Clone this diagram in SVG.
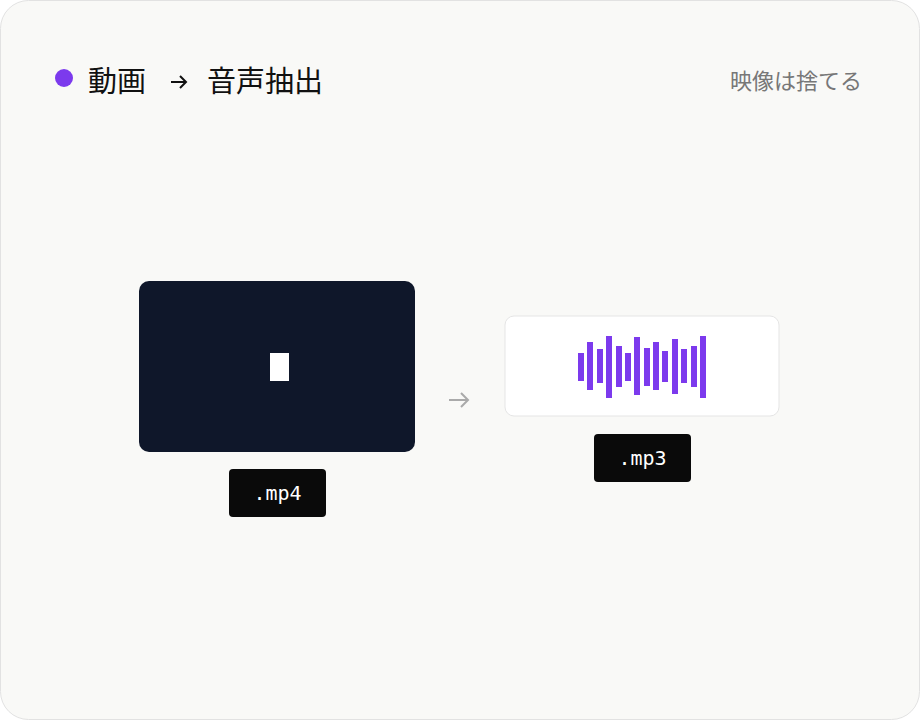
<svg xmlns="http://www.w3.org/2000/svg" width="920" height="720" viewBox="0 0 920 720">
<style>
.tag{fill:#0a0a0a}
.tagt{font-family:"DejaVu Sans Mono","Liberation Mono",monospace;font-size:20px;fill:#fff;text-anchor:middle}
.bar{fill:#7c3aed}
</style>
<rect x="0.5" y="0.5" width="919" height="719" rx="28" fill="#f9f9f7" stroke="#e2e2e2"/>
<g id="title">
<circle cx="64" cy="78" r="9" fill="#7c3aed"/>
<text x="88" y="92" font-family="'Noto Sans CJK JP',sans-serif" font-size="29" fill="#111">動画</text>
<path d="M171 82h15M180 76l6 6-6 6" fill="none" stroke="#111" stroke-width="2"/>
<text x="207" y="92" font-family="'Noto Sans CJK JP',sans-serif" font-size="29" fill="#111">音声抽出</text>
<text x="862" y="89" text-anchor="end" font-family="'Noto Sans CJK JP',sans-serif" font-size="22" fill="#777">映像は捨てる</text>
</g>
<g id="video">
<rect x="139" y="281" width="276" height="171" rx="10" fill="#0f172a"/>
<rect x="270" y="353" width="19" height="28" fill="#fff"/>
<rect class="tag" x="229" y="469" width="97" height="48" rx="4"/>
<text class="tagt" x="277.5" y="500">.mp4</text>
</g>
<g id="connectors">
<path d="M449 400h19M461 393l7 7-7 7" fill="none" stroke="#aaa" stroke-width="2"/>
</g>
<g id="audio">
<rect x="505" y="316" width="274" height="100" rx="9" fill="#fff" stroke="#e5e5e5"/>
<rect class="bar" x="578" y="353" width="6" height="28"/>
<rect class="bar" x="587" y="342" width="6" height="48"/>
<rect class="bar" x="597" y="349" width="6" height="34"/>
<rect class="bar" x="606" y="336" width="6" height="62"/>
<rect class="bar" x="616" y="346" width="6" height="41"/>
<rect class="bar" x="625" y="353" width="6" height="28"/>
<rect class="bar" x="634" y="337" width="6" height="58"/>
<rect class="bar" x="644" y="348" width="6" height="38"/>
<rect class="bar" x="653" y="342" width="6" height="48"/>
<rect class="bar" x="662" y="351" width="6" height="31"/>
<rect class="bar" x="672" y="339" width="6" height="55"/>
<rect class="bar" x="681" y="349" width="6" height="34"/>
<rect class="bar" x="691" y="346" width="6" height="41"/>
<rect class="bar" x="700" y="336" width="6" height="62"/>
<rect class="tag" x="594" y="434" width="97" height="48" rx="4"/>
<text class="tagt" x="642.5" y="465">.mp3</text>
</g>
</svg>
